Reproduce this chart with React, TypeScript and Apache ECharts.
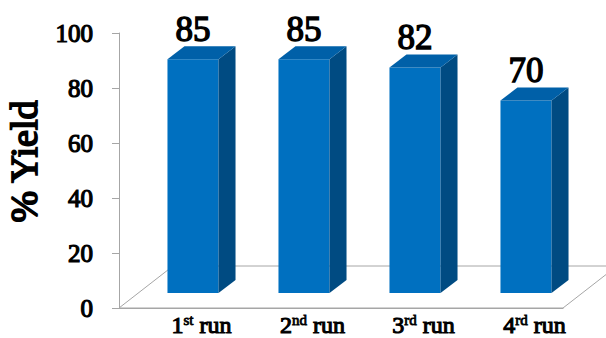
import React, { useEffect, useRef } from "react";
import * as echarts from "echarts";

const categories = ["1st run", "2nd run", "3rd run", "4rd run"];
const yieldValues = [85, 85, 82, 70];
const yTicks = { min: 0, max: 100, interval: 20 };
const axisTitle = "% Yield";

const FONT = "Liberation Serif";
const FRONT = "#0070C0";
const TOP = "#0060A8";
const SIDE = "#004B82";
const GRAY = "#a6a6a6";

// 3D geometry (pixels)
const BAR_SHIFT_X = 18.5;
const BAR_SHIFT_Y = 15;
const BAR_DEPTH_X = 17;
const BAR_DEPTH_Y = 13;
const FLOOR_DX = 54;
const FLOOR_DY = 42;

// faux-bold text (serif bold face is not available)
const boldText = (size: number, border: number) => ({
  fontFamily: FONT,
  fontWeight: "normal",
  fontSize: size,
  color: "#000",
  textBorderColor: "#000",
  textBorderWidth: border,
});

export default function App() {
  const ref = useRef<HTMLDivElement>(null);
  useEffect(() => {
    if (!ref.current) return;
    const chart = echarts.init(ref.current, null, { renderer: "svg" });
    chart.setOption({
      animation: false,
      backgroundColor: "#fff",
      grid: {
        left: 119,
        right: 43,
        top: 33,
        bottom: 30,
        containLabel: false,
        outerBoundsMode: "none",
      },
      xAxis: {
        type: "category",
        data: categories,
        axisLine: { show: true, lineStyle: { color: GRAY, width: 1 } },
        axisTick: { show: false },
        axisLabel: {
          interval: 0,
          margin: 5,
          padding: [0, 0, 0, 54],
          formatter: (val: string) => {
            const m = val.match(/^(\d+)([a-z]+) (.*)$/);
            if (!m) return val;
            return `{n|${m[1]}}{s|${m[2]}}{n| ${m[3]}}`;
          },
          rich: {
            n: { ...boldText(24, 1.1), lineHeight: 24, verticalAlign: "bottom" },
            s: { ...boldText(15, 0.8), lineHeight: 14, padding: [0, 0, 10, 0], verticalAlign: "bottom" },
          },
        },
      },
      yAxis: {
        type: "value",
        min: yTicks.min,
        max: yTicks.max,
        interval: yTicks.interval,
        name: axisTitle,
        nameLocation: "middle",
        nameGap: 70,
        nameTextStyle: {
          ...boldText(38, 1.8),
          padding: [0, 0, 0, 18],
        },
        axisLine: { show: true, lineStyle: { color: GRAY, width: 1 } },
        axisTick: { show: true, length: 7, lineStyle: { color: GRAY } },
        splitLine: { show: false },
        axisLabel: {
          margin: 26,
          ...boldText(25, 1.2),
        },
      },
      series: [
        {
          type: "custom",
          z: 1,
          data: [[0]],
          renderItem: (params: any) => {
            const cs = params.coordSys;
            const x0 = cs.x;
            const x1 = cs.x + cs.width;
            const yb = cs.y + cs.height;
            return {
              type: "polygon",
              shape: {
                points: [
                  [x0, yb],
                  [x1, yb],
                  [x1 + FLOOR_DX, yb - FLOOR_DY],
                  [x0 + FLOOR_DX, yb - FLOOR_DY],
                ],
              },
              style: { fill: "#fff", stroke: GRAY, lineWidth: 1 },
            };
          },
        },
        {
          type: "custom",
          z: 3,
          data: yieldValues.map((v, i) => [i, v]),
          renderItem: (params: any, api: any) => {
            const i = api.value(0);
            const v = api.value(1);
            const top = api.coord([i, v]);
            const base = api.coord([i, 0]);
            const bw = api.size([1, 0])[0] * 0.46;
            const cx = top[0] + BAR_SHIFT_X;
            const xl = cx - bw / 2;
            const xr = cx + bw / 2;
            const yt = top[1] - BAR_SHIFT_Y;
            const yb = base[1] - BAR_SHIFT_Y;
            return {
              type: "group",
              children: [
                {
                  type: "rect",
                  shape: { x: xl, y: yt, width: bw, height: yb - yt },
                  style: { fill: FRONT },
                },
                {
                  type: "polygon",
                  shape: {
                    points: [
                      [xr, yt],
                      [xr + BAR_DEPTH_X, yt - BAR_DEPTH_Y],
                      [xr + BAR_DEPTH_X, yb - BAR_DEPTH_Y],
                      [xr, yb],
                    ],
                  },
                  style: { fill: SIDE },
                },
                {
                  type: "polygon",
                  shape: {
                    points: [
                      [xl, yt],
                      [xr, yt],
                      [xr + BAR_DEPTH_X, yt - BAR_DEPTH_Y],
                      [xl + BAR_DEPTH_X, yt - BAR_DEPTH_Y],
                    ],
                  },
                  style: { fill: TOP },
                },
                {
                  type: "text",
                  x: cx,
                  y: yt - BAR_DEPTH_Y - 17,
                  style: {
                    text: String(v),
                    font: `normal 35px ${FONT}`,
                    fill: "#000",
                    stroke: "#000",
                    lineWidth: 1.4,
                    align: "center",
                    verticalAlign: "middle",
                  },
                },
              ],
            };
          },
        },
      ],
    });
    return () => chart.dispose();
  }, []);
  return (
    <div
      ref={ref}
      style={{ position: "fixed", left: 0, top: 0, width: 606, height: 338 }}
    />
  );
}
